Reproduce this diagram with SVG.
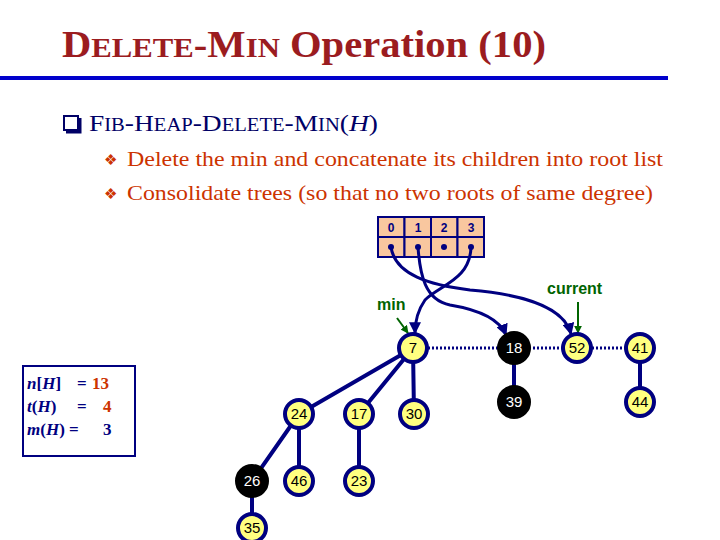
<svg xmlns="http://www.w3.org/2000/svg" width="720" height="540" viewBox="0 0 720 540">
<style>
.t{font-family:"Liberation Serif","Times New Roman",serif}
.n circle{stroke:#000080;stroke-width:4;fill:#FFFF80}
.n text{font-family:"Liberation Sans",Arial,sans-serif;font-size:15px;text-anchor:middle;fill:#000}
.b circle{fill:#000;stroke:#000}
.b text{fill:#fff}
.e{stroke:#000080;stroke-width:4;fill:none}
.d{stroke:#000080;stroke-width:3;stroke-dasharray:2 2;fill:none}
.p{stroke:#000080;stroke-width:3;fill:none;marker-end:url(#ab)}
.g{stroke:#006400;stroke-width:2;fill:none;marker-end:url(#ag)}
.cell{fill:#F9C79F;stroke:#000080;stroke-width:2}
.ct{font-family:"Liberation Sans",sans-serif;font-size:12px;font-weight:bold;text-anchor:middle;fill:#000080}
</style>
<defs>
<marker id="ab" viewBox="0 0 10 10" refX="9" refY="5" markerWidth="4" markerHeight="4" orient="auto"><path d="M0,0L10,5L0,10z" fill="#000080"/></marker>
<marker id="ag" viewBox="0 0 10 10" refX="9" refY="5" markerWidth="4" markerHeight="4" orient="auto"><path d="M0,0L10,5L0,10z" fill="#006400"/></marker>
</defs>
<rect width="720" height="540" fill="#fff"/>
<text class="t" font-family="Liberation Serif,serif" x="62" y="57" font-size="37" font-weight="bold" fill="#9B1C1F" textLength="484" lengthAdjust="spacingAndGlyphs">D<tspan font-size="28">ELETE</tspan>-M<tspan font-size="28">IN</tspan> Operation (10)</text>
<rect x="0" y="76" width="668" height="4" fill="#0000CC"/>
<rect x="64" y="116" width="14" height="14" fill="none" stroke="#000066" stroke-width="2"/>
<path d="M66,132H80V118" fill="none" stroke="#000066" stroke-width="3"/>
<text class="t" font-family="Liberation Serif,serif" x="89" y="131" font-size="24" fill="#000066" textLength="289" lengthAdjust="spacingAndGlyphs">F<tspan font-size="18">IB</tspan>-H<tspan font-size="18">EAP</tspan>-D<tspan font-size="18">ELETE</tspan>-M<tspan font-size="18">IN</tspan>(<tspan font-style="italic">H</tspan>)</text>
<text x="104" y="165" font-family="DejaVu Sans,sans-serif" font-size="15" fill="#CC3300">❖</text>
<text x="104" y="199" font-family="DejaVu Sans,sans-serif" font-size="15" fill="#CC3300">❖</text>
<text class="t" font-family="Liberation Serif,serif" x="127" y="166" font-size="22" fill="#CC3300" textLength="536" lengthAdjust="spacingAndGlyphs">Delete the min and concatenate its children into root list</text>
<text class="t" font-family="Liberation Serif,serif" x="127" y="200" font-size="22" fill="#CC3300" textLength="526" lengthAdjust="spacingAndGlyphs">Consolidate trees (so that no two roots of same degree)</text>
<g id="array">
<rect class="cell" x="378" y="217" width="26.5" height="20"/><rect class="cell" x="404.5" y="217" width="26.5" height="20"/><rect class="cell" x="431" y="217" width="26.5" height="20"/><rect class="cell" x="457.5" y="217" width="26.5" height="20"/>
<rect class="cell" x="378" y="237" width="26.5" height="20"/><rect class="cell" x="404.5" y="237" width="26.5" height="20"/><rect class="cell" x="431" y="237" width="26.5" height="20"/><rect class="cell" x="457.5" y="237" width="26.5" height="20"/>
<text class="ct" x="391" y="232">0</text><text class="ct" x="418" y="232">1</text><text class="ct" x="444" y="232">2</text><text class="ct" x="471" y="232">3</text>
<g fill="#000080"><circle cx="391" cy="247" r="3"/><circle cx="418" cy="247" r="3"/><circle cx="444" cy="247" r="3"/><circle cx="471" cy="247" r="3"/></g>
</g>
<g id="connectors">
<path class="e" d="M413,348L299,414M413,348L359,414M413,348L414,414M299,414L252,481M299,414L299,481M359,414L359,481M252,481L252,528M514,348L514,402M640,348L640,402"/>
<path class="d" d="M428,348H499M529,348H562M592,348H625"/>
<path class="p" d="M391,247C395,275 430,285 470,290C530,295 565,310 571,334"/>
<path class="p" d="M418,247C420,275 425,300 450,305C480,310 500,320 506,335"/>
<path class="p" d="M471,247C470,280 440,285 425,300C418,310 415,320 415,333"/>
<path class="g" d="M397,318L408,333"/>
<path class="g" d="M578,302V333"/>
</g>
<text x="377" y="310" font-family="Liberation Sans,sans-serif" font-size="16" font-weight="bold" fill="#006400">min</text>
<text x="547" y="294" font-family="Liberation Sans,sans-serif" font-size="16" font-weight="bold" fill="#006400">current</text>
<g id="n7" class="n"><circle cx="413" cy="348" r="14"/><text x="413" y="353">7</text></g>
<g id="n18" class="n b"><circle cx="514" cy="348" r="15"/><text x="514" y="353">18</text></g>
<g id="n52" class="n"><circle cx="577" cy="348" r="14"/><text x="577" y="353">52</text></g>
<g id="n41" class="n"><circle cx="640" cy="348" r="14"/><text x="640" y="353">41</text></g>
<g id="n39" class="n b"><circle cx="514" cy="402" r="15"/><text x="514" y="407">39</text></g>
<g id="n44" class="n"><circle cx="640" cy="402" r="14"/><text x="640" y="407">44</text></g>
<g id="n24" class="n"><circle cx="299" cy="414" r="14"/><text x="299" y="419">24</text></g>
<g id="n17" class="n"><circle cx="359" cy="414" r="14"/><text x="359" y="419">17</text></g>
<g id="n30" class="n"><circle cx="414" cy="414" r="14"/><text x="414" y="419">30</text></g>
<g id="n26" class="n b"><circle cx="252" cy="481" r="15"/><text x="252" y="486">26</text></g>
<g id="n46" class="n"><circle cx="299" cy="481" r="14"/><text x="299" y="486">46</text></g>
<g id="n23" class="n"><circle cx="359" cy="481" r="14"/><text x="359" y="486">23</text></g>
<g id="n35" class="n"><circle cx="252" cy="528" r="14"/><text x="252" y="533">35</text></g>
<g id="stats">
<rect x="23" y="366" width="112" height="90" fill="#fff" stroke="#000080" stroke-width="2"/>
<g class="t" font-size="17" font-weight="bold" fill="#000080">
<text x="27" y="389"><tspan font-style="italic">n</tspan>[<tspan font-style="italic">H</tspan>]</text><text x="77" y="389">=</text><text x="92" y="389" fill="#CC3300">13</text>
<text x="27" y="412"><tspan font-style="italic">t</tspan>(<tspan font-style="italic">H</tspan>)</text><text x="77" y="412">=</text><text x="103" y="412" fill="#CC3300">4</text>
<text x="27" y="435"><tspan font-style="italic">m</tspan>(<tspan font-style="italic">H</tspan>) =</text><text x="103" y="435">3</text>
</g>
</g>
</svg>
